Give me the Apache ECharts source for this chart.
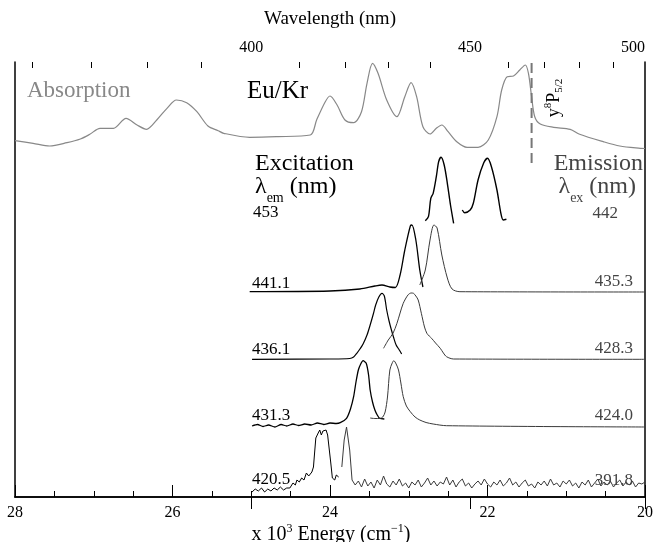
<!DOCTYPE html>
<html><head><meta charset="utf-8">
<script src="https://cdn.jsdelivr.net/npm/echarts@6/dist/echarts.min.js"></script>
<style>html,body{margin:0;padding:0;background:#fff}#c{width:653px;height:542px}</style>
</head><body><div id="c"></div>
<script>
const FONT = '"Liberation Serif","Times New Roman",serif';

// Top axis: wavelength (nm) tick labels and minor ticks
const wavelengthLabels = [500, 450, 400];
const wavelengthMinor = [360, 370, 380, 390, 410, 420, 430, 440, 460, 470, 480, 490];

// Energy in 10^3 cm^-1, intensity in arbitrary (offset) units
const absorption = [[28.00,356.3],[27.77,353.7],[27.56,351],[27.34,354.3],[27.17,358],[27.05,362.7],[26.92,368.7],[26.75,368.7],[26.59,378.7],[26.45,372],[26.33,367.7],[26.20,377],[26.07,388.7],[25.95,397],[25.82,394.3],[25.69,385.3],[25.55,371],[25.42,366.3],[25.35,363.7],[25.02,359.7],[24.68,360.3],[24.25,362],[24.17,377],[24.06,395.3],[24.00,401],[23.91,392],[23.81,377],[23.70,374.3],[23.60,385.3],[23.53,413.7],[23.46,433.7],[23.39,423.7],[23.28,397],[23.15,380.3],[23.05,400.3],[22.97,414.3],[22.90,400.3],[22.82,370.3],[22.73,363],[22.65,368.7],[22.58,372],[22.50,365.3],[22.39,355.3],[22.26,349.7],[22.12,349.7],[21.99,357],[21.88,380.3],[21.82,407],[21.75,420.3],[21.67,421],[21.59,427],[21.52,432],[21.48,423.7],[21.44,400.3],[21.40,380.3],[21.33,373],[21.16,369.7],[20.95,367.7],[20.83,362.7],[20.53,355.3],[20.32,351],[20.06,348.7],[20.00,348.5]];

// y8P5/2 level position
const levelEnergy = 21.44;
const levelSpan = [334, 435];

// Excitation (left label, λem) and emission (right label, λex) traces
const exc453 = [[22.79,276.3],[22.75,280.3],[22.72,298.7],[22.69,303.7],[22.65,320.3],[22.62,335.3],[22.59,339.7],[22.55,332],[22.51,313.7],[22.47,292],[22.43,273.7]];
const emi442 = [[22.32,287],[22.29,284.3],[22.22,287],[22.18,293.7],[22.12,317],[22.05,333.7],[22.00,338.7],[21.95,330.3],[21.88,307],[21.83,283.7],[21.80,277],[21.76,277.7]];

const exc441_1 = [[25.02,205.3],[24.00,206],[23.62,208],[23.43,211],[23.34,212],[23.24,210],[23.17,209.5],[23.11,222],[23.05,247],[22.98,271],[22.96,272],[22.91,257],[22.86,227],[22.82,210]];
const emi435_3 = [[22.86,212],[22.79,227],[22.73,257],[22.68,272],[22.64,269],[22.58,242],[22.51,219],[22.45,208],[22.35,205.3],[20.00,205]];

const exc436_1 = [[24.99,137.7],[24.00,138],[23.75,138.5],[23.70,140],[23.66,143.7],[23.62,148],[23.58,153],[23.53,162],[23.49,172],[23.45,183],[23.42,192],[23.38,200],[23.34,203.7],[23.31,201],[23.28,187],[23.25,176],[23.22,167],[23.19,159],[23.16,152],[23.12,147],[23.09,143]];
const emi428_3 = [[23.32,148.7],[23.26,157],[23.20,163.7],[23.15,173.7],[23.11,184],[23.07,193.7],[23.01,202],[22.97,204],[22.94,203.7],[22.91,201],[22.88,197],[22.84,183.7],[22.80,170],[22.77,163.7],[22.74,161],[22.71,158.7],[22.66,154],[22.60,148.7],[22.56,144],[22.52,140.3],[22.43,138],[20.00,137.7]];

const exc431_3 = [[24.99,71],[24.92,72.5],[24.85,70.5],[24.78,72],[24.70,70],[24.62,72.5],[24.55,71],[24.47,73],[24.40,71.5],[24.32,73],[24.24,72],[24.16,74],[24.08,72.5],[24.00,74],[23.92,73.5],[23.87,74.3],[23.79,78.7],[23.74,88],[23.70,100.3],[23.67,115],[23.64,127],[23.61,133],[23.58,136.3],[23.54,133.7],[23.51,122],[23.49,107],[23.46,95],[23.43,87],[23.40,82],[23.37,78.7],[23.31,78]];
const emi424_0 = [[23.49,79],[23.43,78.5],[23.37,78.5],[23.33,80],[23.30,85],[23.27,100],[23.24,127],[23.21,134],[23.19,136.3],[23.16,133],[23.13,127],[23.10,114],[23.07,100.3],[23.03,91],[22.98,85.3],[22.92,80],[22.86,77],[22.78,74.5],[22.69,73],[22.52,71.3],[20.00,70]];

const exc420_5 = [[24.99,5],[24.95,8],[24.91,6],[24.87,9],[24.83,5],[24.79,8],[24.75,6],[24.71,9],[24.67,7],[24.63,10],[24.59,7],[24.55,9],[24.51,9],[24.47,14],[24.44,12],[24.42,17],[24.39,15],[24.36,19],[24.33,17],[24.30,24],[24.27,21],[24.23,25],[24.21,30],[24.20,40],[24.18,59],[24.15,64],[24.13,67],[24.11,62],[24.09,66],[24.07,64],[24.05,67],[24.03,62],[24.01,64],[23.99,34],[23.97,19],[23.94,17],[23.92,22],[23.89,20]];
const emi391_8 = [[23.85,30],[23.82,57],[23.79,70],[23.75,47],[23.72,17],[23.68,12],[23.64,16],[23.60,10],[23.56,18],[23.52,11],[23.48,15],[23.44,9],[23.40,17],[23.36,12],[23.32,21],[23.28,13],[23.24,10],[23.20,16],[23.16,12],[23.12,18],[23.08,11],[23.04,14],[23.00,9],[22.96,15],[22.92,12],[22.88,17],[22.84,10],[22.80,14],[22.76,19],[22.72,12],[22.68,16],[22.64,11],[22.60,15],[22.56,13],[22.52,20],[22.48,12],[22.44,17],[22.40,10],[22.36,15],[22.32,18],[22.28,11],[22.24,14],[22.20,9],[22.16,13],[22.12,16],[22.08,12],[22.04,18],[22.00,13],[21.96,10],[21.92,15],[21.88,12],[21.84,17],[21.80,11],[21.76,14],[21.72,19],[21.68,12],[21.64,15],[21.60,10],[21.56,14],[21.52,17],[21.48,11],[21.44,13],[21.40,9],[21.36,15],[21.32,12],[21.28,16],[21.24,11],[21.20,18],[21.16,12],[21.12,14],[21.08,10],[21.04,16],[21.00,13],[20.96,17],[20.92,11],[20.88,14],[20.84,9],[20.80,15],[20.76,12],[20.72,17],[20.68,10],[20.64,14],[20.60,18],[20.56,11],[20.52,15],[20.48,12],[20.44,16],[20.40,10],[20.36,14],[20.32,17],[20.28,11],[20.24,15],[20.20,12],[20.16,16],[20.12,10],[20.08,14],[20.04,13],[20.00,15]];

const leftLabels = ['453', '441.1', '436.1', '431.3', '420.5'];
const rightLabels = ['442', '435.3', '428.3', '424.0', '391.8'];

const chart = echarts.init(document.getElementById('c'), null, {renderer: 'canvas'});

function line(data, color, width, smooth, extra) {
  return Object.assign({
    type: 'line', data: data, showSymbol: false, symbol: 'none', smooth: smooth,
    lineStyle: {color: color, width: width}, silent: true, animation: false, z: 3
  }, extra || {});
}
const EXC = '#000', EMI = '#3a3a3a';

function txt(x, y, text, size, color, align) {
  return {type: 'text', x: x, y: y, silent: true, z: 10,
    style: {text: text, fontFamily: FONT, fontSize: size, fill: color,
      align: align || 'left', verticalAlign: 'middle', textAlign: align || 'left', textVerticalAlign: 'middle'}};
}
function lamText(x, y, sub, color, align) {
  return {type: 'text', x: x, y: y, silent: true, z: 10,
    style: {text: '{l|λ}{s|' + sub + '}{l| (nm)}', align: align, verticalAlign: 'middle',
      textAlign: align, textVerticalAlign: 'middle',
      rich: {
        l: {fontFamily: FONT, fontSize: 24, lineHeight: 26, fill: color, verticalAlign: 'top'},
        s: {fontFamily: FONT, fontSize: 14, lineHeight: 26, fill: color, verticalAlign: 'bottom', padding: [0,0,-4,0]}
      }}};
}

const graphic = [
  txt(27, 91, 'Absorption', 23, '#888'),
  txt(247, 91, 'Eu/Kr', 25, '#000'),
  txt(255, 164, 'Excitation', 24, '#000'),
  lamText(255, 188, 'em', '#000', 'left'),
  txt(643, 164, 'Emission', 24, '#444', 'right'),
  lamText(636, 188, 'ex', '#444', 'right'),
  txt(253, 213, leftLabels[0], 17, '#000'),
  txt(252, 284, leftLabels[1], 17, '#000'),
  txt(252, 350, leftLabels[2], 17, '#000'),
  txt(252, 416, leftLabels[3], 17, '#000'),
  txt(252, 480, leftLabels[4], 17, '#000'),
  txt(618, 214, rightLabels[0], 17, '#444', 'right'),
  txt(633, 282, rightLabels[1], 17, '#444', 'right'),
  txt(633, 349, rightLabels[2], 17, '#444', 'right'),
  txt(633, 416, rightLabels[3], 17, '#444', 'right'),
  txt(633, 481, rightLabels[4], 17, '#444', 'right'),
  {type: 'text', x: 331, y: 534, silent: true, z: 10,
    style: {text: '{n|x 10}{s|3}{n| Energy (cm}{s|−1}{n|)}', align: 'center', verticalAlign: 'middle',
      textAlign: 'center', textVerticalAlign: 'middle',
      rich: {
        n: {fontFamily: FONT, fontSize: 20, lineHeight: 22, fill: '#000', verticalAlign: 'bottom'},
        s: {fontFamily: FONT, fontSize: 12, lineHeight: 22, fill: '#000', verticalAlign: 'top', padding: [0,0,8,0]}
      }}},
  {type: 'text', x: 554, y: 98, rotation: Math.PI / 2, silent: true, z: 10,
    style: {text: '{n|y}{s|8}{n|P}{b|5/2}', align: 'center', verticalAlign: 'middle',
      textAlign: 'center', textVerticalAlign: 'middle',
      rich: {
        n: {fontFamily: FONT, fontSize: 18, lineHeight: 22, fill: '#000'},
        s: {fontFamily: FONT, fontSize: 11, lineHeight: 22, fill: '#000', verticalAlign: 'top', padding: [0,0,10,0]},
        b: {fontFamily: FONT, fontSize: 11, lineHeight: 22, fill: '#000', verticalAlign: 'bottom', padding: [6,0,0,0]}
      }}}
];

const axisLineStyle = {color: '#000', width: 1.5};
const option = {
  backgroundColor: '#fff',
  animation: false,
  grid: {left: 15, right: 8, top: 62, bottom: 45, containLabel: false, outerBoundsMode: 'none'},
  xAxis: [
    {type: 'value', min: 20, max: 28, interval: 2, inverse: true, position: 'bottom',
      axisLine: {show: true, lineStyle: axisLineStyle},
      axisTick: {show: true, inside: true, length: 12, lineStyle: {color: '#000', width: 1}},
      minorTick: {show: true, splitNumber: 4, length: 6, lineStyle: {color: '#000', width: 1}},
      axisLabel: {show: true, margin: 8, fontFamily: FONT, fontSize: 16, color: '#000'},
      splitLine: {show: false}, minorSplitLine: {show: false}},
    {type: 'value', min: 20, max: 28, inverse: true, position: 'top',
      name: 'Wavelength (nm)', nameLocation: 'middle', nameGap: 33,
      nameTextStyle: {fontFamily: FONT, fontSize: 19, color: '#000'},
      axisLine: {show: true, lineStyle: axisLineStyle},
      axisTick: {show: true, inside: true, length: 12, customValues: wavelengthLabels.map(w => 1e4 / w), lineStyle: {color: '#000', width: 1}},
      axisLabel: {show: true, margin: 6, fontFamily: FONT, fontSize: 16, color: '#000', alignMinLabel: 'right',
        customValues: wavelengthLabels.map(w => 1e4 / w), formatter: v => String(Math.round(1e4 / v))},
      splitLine: {show: false}},
    {type: 'value', min: 20, max: 28, inverse: true, position: 'top',
      axisLine: {show: false},
      axisTick: {show: true, inside: true, length: 6, customValues: wavelengthMinor.map(w => 1e4 / w), lineStyle: {color: '#000', width: 1}},
      axisLabel: {show: false}, splitLine: {show: false}}
  ],
  yAxis: [
    {type: 'value', min: 0, max: 435, position: 'left',
      axisLine: {show: true, onZero: false, lineStyle: axisLineStyle}, axisTick: {show: false},
      axisLabel: {show: false}, splitLine: {show: false}},
    {type: 'value', min: 0, max: 435, position: 'right',
      axisLine: {show: true, onZero: false, lineStyle: axisLineStyle}, axisTick: {show: false},
      axisLabel: {show: false}, splitLine: {show: false}}
  ],
  graphic: graphic,
  series: [
    line(absorption, '#888', 1.2, 0.3),
    line([[levelEnergy, levelSpan[0]], [levelEnergy, levelSpan[1]]], '#777', 2, false, {lineStyle: {color: '#777', width: 2, type: [10, 5]}}),
    line(exc453, EXC, 1.4, 0.3),
    line(emi442, EXC, 1.4, 0.3),
    line(exc441_1, EXC, 1.3, 0.3),
    line(emi435_3, EMI, 1, 0.3),
    line(exc436_1, EXC, 1.2, 0.3),
    line(emi428_3, EMI, 1, 0.3),
    line(exc431_3, EXC, 1.3, 0.2),
    line(emi424_0, EMI, 1, 0.3),
    line(exc420_5, EXC, 1, false),
    line(emi391_8, EMI, 1, false)
  ]
};
chart.setOption(option);
</script></body></html>
